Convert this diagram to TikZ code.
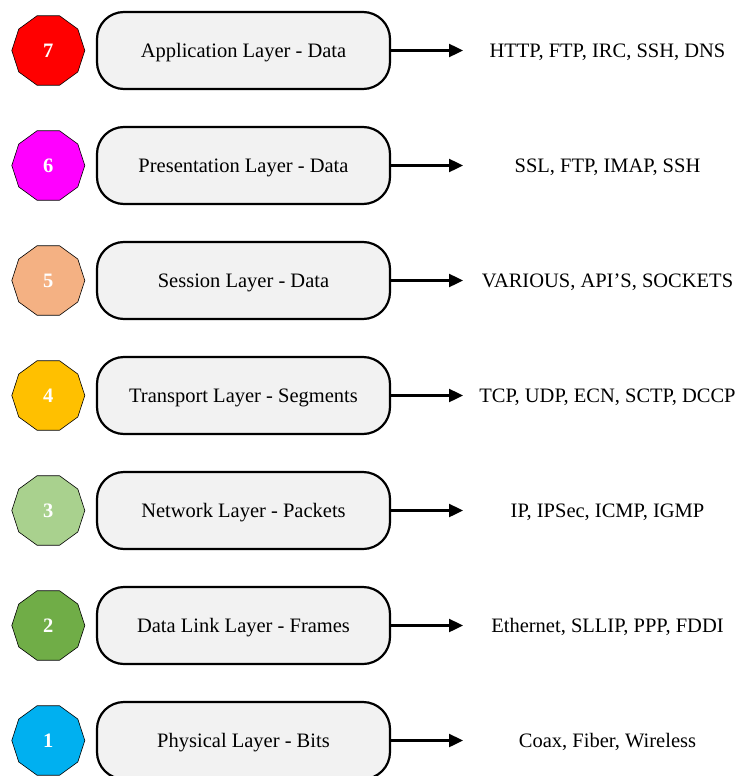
\documentclass[tikz,border=0pt]{standalone}
\usepackage{fontspec}
\setmainfont{Liberation Serif}
\usetikzlibrary{shapes.geometric,arrows.meta}
\definecolor{boxfill}{HTML}{F2F2F2}
\definecolor{cSeven}{HTML}{FF0000}
\definecolor{cSix}{HTML}{FF00FF}
\definecolor{cFive}{HTML}{F4B183}
\definecolor{cFour}{HTML}{FFC000}
\definecolor{cThree}{HTML}{A9D18E}
\definecolor{cTwo}{HTML}{70AD47}
\definecolor{cOne}{HTML}{00B0F0}
\tikzset{
  caps/.style={text height=13.6pt, text depth=0.6pt},
  layerbadge/.style={regular polygon, regular polygon sides=10, minimum size=73pt,
    inner sep=0pt, draw=black, line width=0.6pt, text=white, caps,
    font=\fontsize{20.5}{24}\selectfont\bfseries},
  layerbox/.style={rectangle, rounded corners=27pt, draw=black, line width=2.2pt,
    fill=boxfill, minimum width=293pt, minimum height=77pt, inner sep=0pt, caps,
    font=\fontsize{20.5}{24}\selectfont},
  protolist/.style={font=\fontsize{20.5}{24}\selectfont, inner sep=0pt, caps},
  linkarrow/.style={line width=2.4pt, -{Triangle[length=14pt,width=13pt]}}
}
\begin{document}
\begin{tikzpicture}[x=1pt,y=1pt]
  \useasboundingbox (0,0) rectangle (741,-776);
  \foreach \n/\col/\lab/\proto [count=\i from 0] in {
      7/cSeven/Application Layer - Data/{HTTP, FTP, IRC, SSH, DNS},
      6/cSix/Presentation Layer - Data/{SSL, FTP, IMAP, SSH},
      5/cFive/Session Layer - Data/{VARIOUS, API'S, SOCKETS},
      4/cFour/Transport Layer - Segments/{TCP, UDP, ECN, SCTP, DCCP},
      3/cThree/Network Layer - Packets/{IP, IPSec, ICMP, IGMP},
      2/cTwo/Data Link Layer - Frames/{Ethernet, SLLIP, PPP, FDDI},
      1/cOne/Physical Layer - Bits/{Coax, Fiber, Wireless}} {
    \pgfmathsetmacro{\yy}{-50.5-115*\i}
    \node[layerbadge, fill=\col] (p\n) at (48.3,\yy) {\n};
    \node[layerbox] (b\n) at (243.5,\yy) {\lab};
    \coordinate (a\n) at (463,\yy);
    \node[protolist] (t\n) at (607.5,\yy) {\proto};
    \draw[linkarrow] (b\n.east) -- (a\n);
  }
\end{tikzpicture}
\end{document}
